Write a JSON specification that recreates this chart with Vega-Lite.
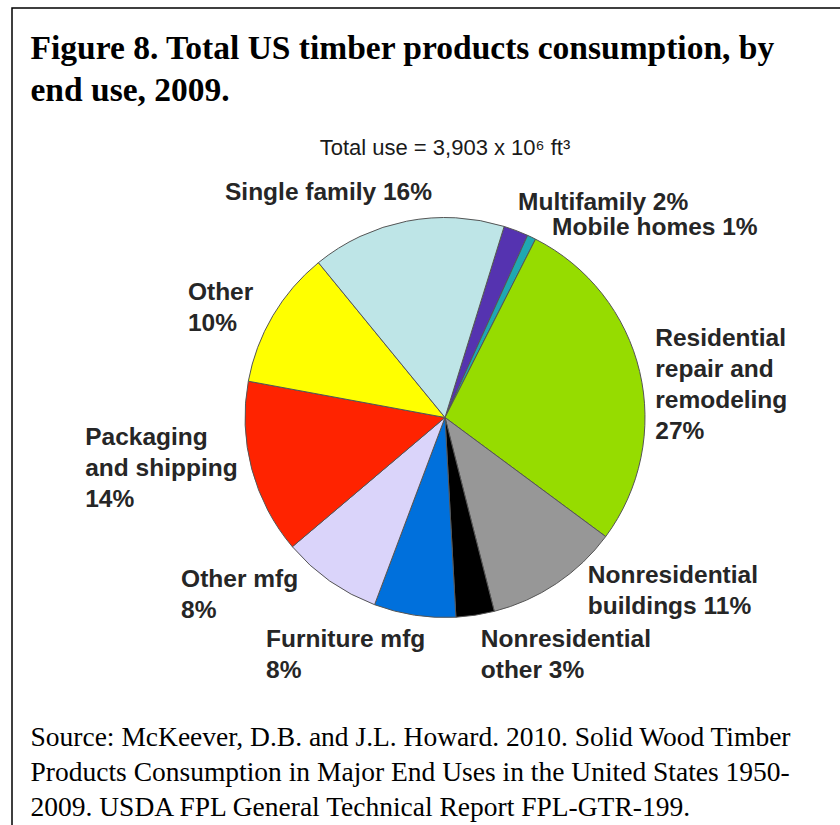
{
  "$schema": "https://vega.github.io/schema/vega-lite/v6.json",
  "width": 840,
  "height": 825,
  "autosize": {"type": "fit", "contains": "padding"},
  "padding": {"left": 12, "top": 8, "right": -38, "bottom": -2},
  "background": "white",
  "config": {
    "view": {"stroke": "#000", "strokeWidth": 1.5},
    "text": {"font": "Liberation Sans", "fontSize": 24.5, "fontWeight": "bold", "color": "#262626", "lineHeight": 31, "lineBreak": "\n", "baseline": "middle"}
  },
  "datasets": {
    "uses": [
      {"seq": 1, "use": "Multifamily", "value": 2.0, "label": "Multifamily 2%"},
      {"seq": 2, "use": "Mobile homes", "value": 0.7, "label": "Mobile homes 1%"},
      {"seq": 3, "use": "Residential repair and remodeling", "value": 27.7, "label": "Residential\nrepair and\nremodeling\n27%"},
      {"seq": 4, "use": "Nonresidential buildings", "value": 10.9, "label": "Nonresidential\nbuildings 11%"},
      {"seq": 5, "use": "Nonresidential other", "value": 3.1, "label": "Nonresidential\nother 3%"},
      {"seq": 6, "use": "Furniture mfg", "value": 6.6, "label": "Furniture mfg\n8%"},
      {"seq": 7, "use": "Other mfg", "value": 8.1, "label": "Other mfg\n8%"},
      {"seq": 8, "use": "Packaging and shipping", "value": 14.1, "label": "Packaging\nand shipping\n14%"},
      {"seq": 9, "use": "Other", "value": 11.2, "label": "Other\n10%"},
      {"seq": 10, "use": "Single family", "value": 15.7, "label": "Single family 16%"}
    ],
    "notes": [{"note": "Total use = 3,903 x 10⁶ ft³"}],
    "frame": [{"k": 0}]
  },
  "layer": [
    {
      "data": {"name": "uses"},
      "mark": {"type": "arc", "outerRadius": 200, "stroke": "#555", "strokeWidth": 1},
      "encoding": {
        "theta": {"field": "value", "type": "quantitative", "stack": true, "scale": {"range": [0.3002, 6.5834]}},
        "order": {"field": "seq", "type": "quantitative"},
        "color": {
          "field": "use", "type": "nominal", "legend": null,
          "scale": {
            "domain": ["Multifamily", "Mobile homes", "Residential repair and remodeling", "Nonresidential buildings", "Nonresidential other", "Furniture mfg", "Other mfg", "Packaging and shipping", "Other", "Single family"],
            "range": ["#5533B0", "#1FA8B2", "#96DC00", "#979797", "#000000", "#0070DC", "#DAD4FA", "#FF2300", "#FFFF00", "#BEE5E7"]
          }
        }
      }
    },
    {
      "data": {"name": "uses"},
      "mark": {"type": "text", "radius": 230, "align": "right", "dx": 31, "dy": 1.5},
      "encoding": {
        "theta": {"field": "value", "type": "quantitative", "stack": true},
        "order": {"field": "seq", "type": "quantitative"},
        "detail": {"field": "use", "type": "nominal"},
        "text": {"condition": {"test": "datum.use === 'Single family'", "field": "label", "type": "nominal"}, "value": ""}
      }
    },
    {
      "data": {"name": "uses"},
      "mark": {"type": "text", "radius": 220, "align": "left", "dx": -5, "dy": -8.5},
      "encoding": {
        "theta": {"field": "value", "type": "quantitative", "stack": true},
        "order": {"field": "seq", "type": "quantitative"},
        "detail": {"field": "use", "type": "nominal"},
        "text": {"condition": {"test": "datum.use === 'Multifamily'", "field": "label", "type": "nominal"}, "value": ""}
      }
    },
    {
      "data": {"name": "uses"},
      "mark": {"type": "text", "radius": 215, "align": "left", "dx": 14, "dy": 4.5},
      "encoding": {
        "theta": {"field": "value", "type": "quantitative", "stack": true},
        "order": {"field": "seq", "type": "quantitative"},
        "detail": {"field": "use", "type": "nominal"},
        "text": {"condition": {"test": "datum.use === 'Mobile homes'", "field": "label", "type": "nominal"}, "value": ""}
      }
    },
    {
      "data": {"name": "uses"},
      "mark": {"type": "text", "radius": 215, "align": "left", "dx": 1, "dy": -29.5},
      "encoding": {
        "theta": {"field": "value", "type": "quantitative", "stack": true},
        "order": {"field": "seq", "type": "quantitative"},
        "detail": {"field": "use", "type": "nominal"},
        "text": {"condition": {"test": "datum.use === 'Residential repair and remodeling'", "field": "label", "type": "nominal"}, "value": ""}
      }
    },
    {
      "data": {"name": "uses"},
      "mark": {"type": "text", "radius": 215, "align": "left", "dx": 23, "dy": -20.5},
      "encoding": {
        "theta": {"field": "value", "type": "quantitative", "stack": true},
        "order": {"field": "seq", "type": "quantitative"},
        "detail": {"field": "use", "type": "nominal"},
        "text": {"condition": {"test": "datum.use === 'Nonresidential buildings'", "field": "label", "type": "nominal"}, "value": ""}
      }
    },
    {
      "data": {"name": "uses"},
      "mark": {"type": "text", "radius": 230, "align": "left", "dx": 1, "dy": -4.5},
      "encoding": {
        "theta": {"field": "value", "type": "quantitative", "stack": true},
        "order": {"field": "seq", "type": "quantitative"},
        "detail": {"field": "use", "type": "nominal"},
        "text": {"condition": {"test": "datum.use === 'Nonresidential other'", "field": "label", "type": "nominal"}, "value": ""}
      }
    },
    {
      "data": {"name": "uses"},
      "mark": {"type": "text", "radius": 230, "align": "left", "dx": -144, "dy": -4.5},
      "encoding": {
        "theta": {"field": "value", "type": "quantitative", "stack": true},
        "order": {"field": "seq", "type": "quantitative"},
        "detail": {"field": "use", "type": "nominal"},
        "text": {"condition": {"test": "datum.use === 'Furniture mfg'", "field": "label", "type": "nominal"}, "value": ""}
      }
    },
    {
      "data": {"name": "uses"},
      "mark": {"type": "text", "radius": 215, "align": "left", "dx": -140, "dy": -13.5},
      "encoding": {
        "theta": {"field": "value", "type": "quantitative", "stack": true},
        "order": {"field": "seq", "type": "quantitative"},
        "detail": {"field": "use", "type": "nominal"},
        "text": {"condition": {"test": "datum.use === 'Other mfg'", "field": "label", "type": "nominal"}, "value": ""}
      }
    },
    {
      "data": {"name": "uses"},
      "mark": {"type": "text", "radius": 215, "align": "left", "dx": -152, "dy": -34.5},
      "encoding": {
        "theta": {"field": "value", "type": "quantitative", "stack": true},
        "order": {"field": "seq", "type": "quantitative"},
        "detail": {"field": "use", "type": "nominal"},
        "text": {"condition": {"test": "datum.use === 'Packaging and shipping'", "field": "label", "type": "nominal"}, "value": ""}
      }
    },
    {
      "data": {"name": "uses"},
      "mark": {"type": "text", "radius": 215, "align": "left", "dx": -72, "dy": -15.5},
      "encoding": {
        "theta": {"field": "value", "type": "quantitative", "stack": true},
        "order": {"field": "seq", "type": "quantitative"},
        "detail": {"field": "use", "type": "nominal"},
        "text": {"condition": {"test": "datum.use === 'Other'", "field": "label", "type": "nominal"}, "value": ""}
      }
    },
    {
      "data": {"name": "notes"},
      "mark": {"type": "text", "theta": 0, "radius": 270, "align": "center", "fontWeight": "normal", "fontSize": 22, "color": "#1a1a1a"},
      "encoding": {"text": {"field": "note", "type": "nominal"}}
    },
    {
      "data": {"name": "frame"},
      "mark": {"type": "rule", "opacity": 0},
      "encoding": {
        "x": {
          "field": "k", "type": "quantitative", "scale": {"domain": [0, 1]},
          "axis": {
            "orient": "bottom", "domain": false, "ticks": false, "labels": false, "grid": false,
            "title": ["Source: McKeever, D.B. and J.L. Howard. 2010. Solid Wood Timber", "Products Consumption in Major End Uses in the United States 1950-", "2009. USDA FPL General Technical Report FPL-GTR-199."],
            "titleAnchor": "start", "titleAlign": "left", "titleBaseline": "alphabetic",
            "titleFont": "Liberation Serif", "titleFontSize": 27.5, "titleFontWeight": "normal", "titleColor": "#000",
            "titleLineHeight": 35, "titleX": 18, "titleY": -82
          }
        }
      }
    },
    {
      "data": {"name": "frame"},
      "mark": {"type": "rule", "opacity": 0},
      "encoding": {
        "y": {
          "field": "k", "type": "quantitative", "scale": {"domain": [0, 1]},
          "axis": {
            "orient": "left", "domain": false, "ticks": false, "labels": false, "grid": false,
            "title": ["Figure 8. Total US timber products consumption, by", "end use, 2009."],
            "titleAngle": 0, "titleAnchor": "start", "titleAlign": "left", "titleBaseline": "alphabetic",
            "titleFont": "Liberation Serif", "titleFontSize": 33.5, "titleFontWeight": "bold", "titleColor": "#000",
            "titleLineHeight": 42, "titleX": 18, "titleY": 50
          }
        }
      }
    }
  ]
}
